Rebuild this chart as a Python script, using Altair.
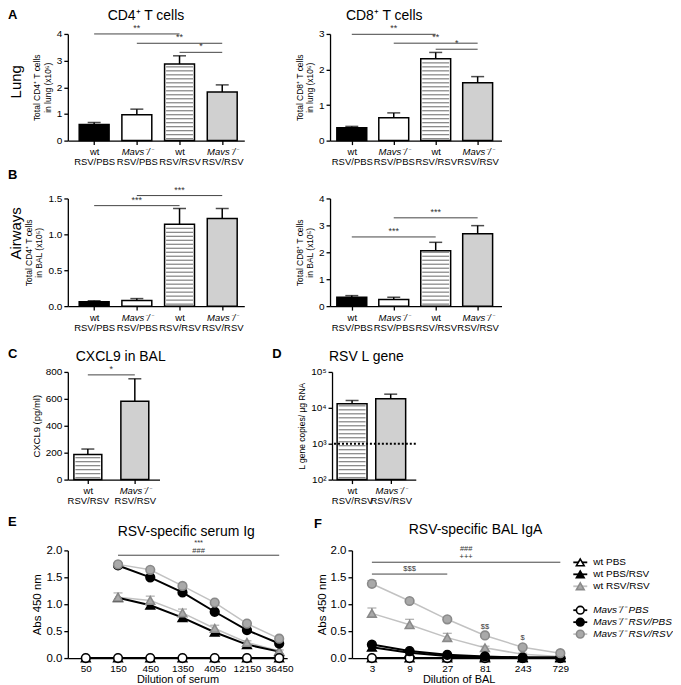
import json
import math
import altair as alt
import pandas as pd

FONT = "Liberation Sans"
BLACK = "#000000"

# ---------------- data: panels A / B ----------------
grp_line1 = ["wt", "Mavs⁻/⁻", "wt", "Mavs⁻/⁻"]
grp_line2 = ["RSV/PBS", "RSV/PBS", "RSV/RSV", "RSV/RSV"]
grp_style = ["black", "white", "striped", "dotted"]

cd4_lung_mean = [0.60, 0.97, 2.87, 1.82]
cd4_lung_sem = [0.08, 0.21, 0.31, 0.27]
cd4_lung_sig_from = [0, 1, 2]
cd4_lung_sig_to = [2, 3, 3]
cd4_lung_sig_y = [4.00, 3.65, 3.31]
cd4_lung_sig_text = ["**", "**", "*"]

cd8_lung_mean = [0.36, 0.64, 2.30, 1.63]
cd8_lung_sem = [0.04, 0.14, 0.18, 0.17]
cd8_lung_sig_from = [0, 1, 2]
cd8_lung_sig_to = [2, 3, 3]
cd8_lung_sig_y = [2.99, 2.74, 2.57]
cd8_lung_sig_text = ["**", "**", "*"]

cd4_bal_mean = [0.06, 0.08, 1.14, 1.22]
cd4_bal_sem = [0.015, 0.025, 0.22, 0.14]
cd4_bal_sig_from = [0, 1]
cd4_bal_sig_to = [2, 3]
cd4_bal_sig_y = [1.40, 1.54]
cd4_bal_sig_text = ["***", "***"]

cd8_bal_mean = [0.33, 0.25, 2.06, 2.69]
cd8_bal_sem = [0.06, 0.08, 0.31, 0.30]
cd8_bal_sig_from = [0, 1]
cd8_bal_sig_to = [2, 3]
cd8_bal_sig_y = [2.57, 3.28]
cd8_bal_sig_text = ["***", "***"]

# ---------------- data: panels C / D ----------------
rsv_line1 = ["wt", "Mavs⁻/⁻"]
rsv_line2 = ["RSV/RSV", "RSV/RSV"]
rsv_style = ["striped", "dotted"]

cxcl9_mean = [186, 582]
cxcl9_sem = [41, 167]
cxcl9_sig_from = [0]
cxcl9_sig_to = [1]
cxcl9_sig_y = [778]
cxcl9_sig_text = ["*"]

lgene_mean = [13000, 18000]
lgene_sem = [3000, 6000]
lgene_lod = [1000]

# ---------------- data: panels E / F ----------------
SERIES = ["wt PBS", "wt PBS/RSV", "wt RSV/RSV",
          "Mavs⁻/⁻ PBS", "Mavs⁻/⁻ RSV/PBS", "Mavs⁻/⁻ RSV/RSV"]

serum_dil = [50, 150, 450, 1350, 4050, 12150, 36450]
serum_wt_pbs = [0.00, 0.00, 0.00, 0.00, 0.00, 0.00, 0.00]
serum_wt_pbs_rsv = [None, 1.12, 0.98, 0.75, 0.48, 0.25, 0.12]
serum_wt_rsv_rsv = [None, 1.13, 1.07, 0.84, 0.55, 0.29, 0.13]
serum_wt_rsv_rsv_sem = [None, 0.08, 0.08, 0.07, 0.06, 0.03, 0.02]
serum_mavs_pbs = [0.00, 0.00, 0.00, 0.00, 0.00, 0.00, 0.00]
serum_mavs_rsv_pbs = [None, 1.72, 1.50, 1.22, 0.86, 0.52, 0.27]
serum_mavs_rsv_rsv = [None, 1.74, 1.64, 1.34, 1.03, 0.64, 0.36]
serum_sig_lines = {"x1": [150], "x2": [36450], "h": [1.91]}
serum_sig_text = {"x1": [150, 150], "x2": [36450, 36450], "h": [2.135, 1.99], "t": ["***", "###"]}

bal_dil = [3, 9, 27, 81, 243, 729]
bal_wt_pbs = [0.00, 0.00, 0.00, 0.00, 0.00, 0.00]
bal_wt_pbs_rsv = [0.20, 0.10, 0.04, 0.02, 0.01, 0.01]
bal_wt_rsv_rsv = [0.83, 0.62, 0.38, 0.19, 0.07, 0.03]
bal_wt_rsv_rsv_sem = [0.10, 0.10, 0.08, 0.03, 0.02, 0.01]
bal_mavs_pbs = [0.00, 0.00, 0.00, 0.00, 0.00, 0.00]
bal_mavs_rsv_pbs = [0.25, 0.13, 0.06, 0.03, 0.01, 0.01]
bal_mavs_rsv_rsv = [1.38, 1.06, 0.72, 0.42, 0.20, 0.09]
bal_mavs_rsv_rsv_sem = [0.06, 0.03, 0.03, 0.02, 0.02, 0.01]
bal_sig_lines = {"x1": [3, 3], "x2": [729, 27], "h": [1.78, 1.56]}
bal_sig_text = {"x1": [3, 3, 3, 81, 243], "x2": [729, 729, 27, 81, 243],
                "h": [2.02, 1.87, 1.65, 0.58, 0.37], "t": ["###", "+++", "$$$", "$$", "$"]}

# ---------------- styles ----------------
STYLE_DOMAIN = ["black", "white", "striped", "dotted"]
STYLE_FILL = ["#000000", "#ffffff", "#ffffff", "#d0d0d0"]
LINE_COLORS = ["#000000", "#000000", "#c2c2c2", "#000000", "#000000", "#c2c2c2"]
SHAPES = ["triangle-up", "triangle-up", "triangle-up", "circle", "circle", "circle"]
PT_FILL = ["#ffffff", "#000000", "#a9a9a9", "#ffffff", "#000000", "#a9a9a9"]
PT_STROKE = ["#000000", "#000000", "#8a8a8a", "#000000", "#000000", "#8a8a8a"]
GREY_SERIES = [SERIES[2], SERIES[5]]

# one shared fill scale for the whole figure (non-positional scales are shared across concat)
FILL_SCALE = alt.Scale(domain=STYLE_DOMAIN + SERIES, range=STYLE_FILL + PT_FILL)
COLOR_SCALE = alt.Scale(domain=SERIES, range=LINE_COLORS)
SHAPE_SCALE = alt.Scale(domain=SERIES, range=SHAPES)
STROKE_SCALE = alt.Scale(domain=SERIES, range=PT_STROKE)


def text_layer(txt, x, y, size, weight="normal", align="left",
               baseline="alphabetic", angle=None):
    kw = dict(align=align, baseline=baseline, fontSize=size,
              fontWeight=weight, color=BLACK, font=FONT)
    if angle is not None:
        kw["angle"] = angle
    return alt.Chart(pd.DataFrame({"t": [txt]})).mark_text(**kw).encode(
        x=alt.value(x), y=alt.value(y), text="t:N")


def bar_panel(line1, line2, styles, mean, sem, sig, ydomain, yvalues, ytitle,
              width, height, xdomain, title, title_xy, letter, letter_xy,
              bw=30, yformat=None, ylabel_expr=None, log=False, lod=None,
              rowlabel=None, rowlabel_y=None, ytitle_size=8.5, ytitle_pad=4):
    n = len(mean)
    df = pd.DataFrame({"i": list(range(n)), "mean": mean,
                       "top": [m + s for m, s in zip(mean, sem)],
                       "style": styles})
    if log:
        yscale = alt.Scale(type="log", domain=ydomain, nice=False)
    else:
        yscale = alt.Scale(domain=ydomain, nice=False)
    akw = dict(values=yvalues, title=ytitle, titleFontSize=ytitle_size,
               titlePadding=ytitle_pad, labelFontSize=10)
    if yformat:
        akw["format"] = yformat
    if ylabel_expr:
        akw["labelExpr"] = ylabel_expr
    yaxis = alt.Axis(**akw)
    xscale = alt.Scale(domain=xdomain, nice=False, zero=False)
    mavs = [k for k, s in enumerate(line1) if s.startswith("Mavs")]
    ax1 = alt.Axis(values=list(range(n)), title=None, orient="bottom",
                   labelExpr=json.dumps(line1, ensure_ascii=False) + "[datum.value]",
                   labelFontStyle={"condition": {"test": "indexof(" + json.dumps(mavs) + ", datum.value) >= 0",
                                                 "value": "italic"}, "value": "normal"},
                   labelFontSize=9.5, labelPadding=2)
    ax2 = alt.Axis(values=list(range(n)), title=None, orient="bottom",
                   labelExpr=json.dumps(line2, ensure_ascii=False) + "[datum.value]",
                   domain=False, ticks=False, labelFontSize=9.5, labelPadding=16)
    base = ydomain[0] if log else 0

    X = lambda f, ax=None: alt.X(f, scale=xscale, axis=ax)
    Y = lambda f: alt.Y(f, scale=yscale, axis=yaxis)

    bars = alt.Chart(df).mark_bar(width=bw, stroke=BLACK, strokeWidth=1.5).encode(
        x=X("i:Q", ax1), y=Y("mean:Q"), y2=alt.datum(base),
        fill=alt.Fill("style:N", scale=FILL_SCALE, legend=None))

    if log:
        lo, hi = math.log10(ydomain[0]), math.log10(ydomain[1])
        st = 4.0 * (hi - lo) / height
        stripes = alt.Chart(df).transform_filter("datum.style == 'striped'").transform_calculate(
            s=f"sequence({lo + st / 2}, log(datum.mean) / LN10 - {st * 0.3}, {st})"
        ).transform_flatten(["s"]).transform_calculate(sy="pow(10, datum.s)")
    else:
        st = 4.0 * (ydomain[1] - ydomain[0]) / height
        stripes = alt.Chart(df).transform_filter("datum.style == 'striped'").transform_calculate(
            s=f"sequence({st / 2}, datum.mean - {st * 0.3}, {st})"
        ).transform_flatten(["s"]).transform_calculate(sy="datum.s")
    stripes = stripes.mark_tick(orient="horizontal", size=bw - 3, thickness=1.3,
                                color="#5a5a5a").encode(x=X("i:Q"), y=Y("sy:Q"))

    err = alt.Chart(df).mark_rule(color=BLACK, strokeWidth=1.5).encode(
        x=X("i:Q", ax2), y=Y("mean:Q"), y2="top:Q")
    cap = alt.Chart(df).mark_tick(orient="horizontal", size=13, thickness=1.5,
                                  color=BLACK).encode(x=X("i:Q"), y=Y("top:Q"))

    sdf = pd.DataFrame({"a": sig[0], "b": sig[1], "h": sig[2], "t": sig[3]})
    srule = alt.Chart(sdf).mark_rule(color="#444444", strokeWidth=1).encode(
        x=X("a:Q"), x2="b:Q", y=Y("h:Q"))
    stext = alt.Chart(sdf).transform_calculate(m="(datum.a + datum.b) / 2").mark_text(
        baseline="bottom", dy=-1, fontSize=9, color="#333333", font=FONT).encode(
        x=X("m:Q"), y=Y("h:Q"), text="t:N")

    layers = [bars, stripes, err, cap, srule, stext]
    if lod is not None:
        layers.append(alt.Chart(pd.DataFrame({"lod": lod})).mark_rule(
            strokeDash=[2, 2], strokeWidth=2, color=BLACK).encode(y=Y("lod:Q")))
    if title:
        layers.append(text_layer(title, title_xy[0], title_xy[1], 14))
    if letter:
        layers.append(text_layer(letter, letter_xy[0], letter_xy[1], 13, weight="bold",
                                 baseline="middle"))
    if rowlabel:
        layers.append(text_layer(rowlabel, -52, rowlabel_y, 15, align="center",
                                 baseline="middle", angle=270))
    return alt.layer(*layers).resolve_axis(x="independent").properties(
        width=width, height=height)


def line_panel(dil, vals, sems, xdomain, xtitle, sig_lines, sig_text, title,
               title_xy, letter, letter_xy, width, height):
    rows = []
    for name, vv in zip(SERIES, vals):
        for d, v in zip(dil, vv):
            if v is not None:
                rows.append({"d": d, "v": v, "series": name})
    df = pd.DataFrame(rows)
    erows = []
    for name, ss in sems.items():
        vv = vals[SERIES.index(name)]
        for d, v, s in zip(dil, vv, ss):
            if v is not None and s is not None:
                erows.append({"d": d, "v": v, "top": v + s, "series": name})
    edf = pd.DataFrame(erows)

    xscale = alt.Scale(type="log", domain=xdomain, nice=False)
    yscale = alt.Scale(domain=[0, 2], nice=False)
    xaxis = alt.Axis(values=dil, format="d", title=xtitle, titleFontSize=11,
                     labelFontSize=10, labelFlush=False, labelPadding=1, titlePadding=1)
    yaxis = alt.Axis(values=[0, 0.5, 1, 1.5, 2], format=".1f", title="Abs 450 nm",
                     titleFontSize=11.5, labelFontSize=11.5, titlePadding=3)
    X = lambda f: alt.X(f, scale=xscale, axis=xaxis)
    Y = lambda f: alt.Y(f, scale=yscale, axis=yaxis)
    color = alt.Color("series:N", scale=COLOR_SCALE, legend=None)

    grey_lines = alt.Chart(df).transform_filter(
        alt.FieldOneOfPredicate(field="series", oneOf=GREY_SERIES)).mark_line(
        strokeWidth=1.5).encode(x=X("d:Q"), y=Y("v:Q"), color=color)
    black_lines = alt.Chart(df).transform_filter(
        {"not": alt.FieldOneOfPredicate(field="series", oneOf=GREY_SERIES)}).mark_line(
        strokeWidth=2).encode(x=X("d:Q"), y=Y("v:Q"), color=color)
    erule = alt.Chart(edf).mark_rule(color="#8a8a8a", strokeWidth=1.2).encode(
        x=X("d:Q"), y=Y("v:Q"), y2="top:Q")
    ecap = alt.Chart(edf).mark_tick(orient="horizontal", size=9, thickness=1.2,
                                    color="#8a8a8a").encode(x=X("d:Q"), y=Y("top:Q"))
    points = alt.Chart(df).mark_point(filled=True, size=75, strokeWidth=1.6, opacity=1).encode(
        x=X("d:Q"), y=Y("v:Q"),
        shape=alt.Shape("series:N", scale=SHAPE_SCALE, legend=None),
        fill=alt.Fill("series:N", scale=FILL_SCALE, legend=None),
        stroke=alt.Stroke("series:N", scale=STROKE_SCALE, legend=None))
    srule = alt.Chart(pd.DataFrame(sig_lines)).mark_rule(color="#444444", strokeWidth=1).encode(
        x=X("x1:Q"), x2="x2:Q", y=Y("h:Q"))
    stext = alt.Chart(pd.DataFrame(sig_text)).transform_calculate(
        m="sqrt(datum.x1 * datum.x2)").mark_text(
        baseline="middle", fontSize=7.5, color="#333333", font=FONT).encode(
        x=X("m:Q"), y=Y("h:Q"), text="t:N")
    layers = [grey_lines, black_lines, erule, ecap, points, srule, stext,
              text_layer(title, title_xy[0], title_xy[1], 14),
              text_layer(letter, letter_xy[0], letter_xy[1], 13, weight="bold", baseline="middle")]
    return alt.layer(*layers).properties(width=width, height=height)


def legend_panel(width, height):
    df = pd.DataFrame({"series": SERIES})
    yscale = alt.Scale(type="point", domain=SERIES[:3] + [" "] + SERIES[3:] + ["  "], padding=1.33)
    Y = alt.Y("series:N", scale=yscale, axis=None)
    color = alt.Color("series:N", scale=COLOR_SCALE, legend=None)
    rule = alt.Chart(df).mark_rule(strokeWidth=1.8).encode(
        x=alt.value(3), x2=alt.value(17), y=Y, color=color)
    pts = alt.Chart(df).mark_point(filled=True, size=60, strokeWidth=1.6, opacity=1).encode(
        x=alt.value(10), y=Y,
        shape=alt.Shape("series:N", scale=SHAPE_SCALE, legend=None),
        fill=alt.Fill("series:N", scale=FILL_SCALE, legend=None),
        stroke=alt.Stroke("series:N", scale=STROKE_SCALE, legend=None))
    t_wt = alt.Chart(df).transform_filter("indexof(datum.series, 'wt') == 0").mark_text(
        align="left", baseline="middle", fontSize=10, font=FONT, color=BLACK).encode(
        x=alt.value(23), y=Y, text="series:N")
    t_mv = alt.Chart(df).transform_filter("indexof(datum.series, 'Mavs') == 0").mark_text(
        align="left", baseline="middle", fontSize=10, font=FONT, color=BLACK,
        fontStyle="italic").encode(x=alt.value(23), y=Y, text="series:N")
    return alt.layer(rule, pts, t_wt, t_mv).properties(width=width, height=height)


# ---------------- panels ----------------
A_left = bar_panel(grp_line1, grp_line2, grp_style, cd4_lung_mean, cd4_lung_sem,
                   (cd4_lung_sig_from, cd4_lung_sig_to, cd4_lung_sig_y, cd4_lung_sig_text),
                   [0, 4], [0, 1, 2, 3, 4], ["Total CD4⁺ T cells", "in lung (x10⁶)"],
                   177, 107, [-0.5, 3.4], "CD4⁺ T cells", (40, -13.5), "A", (-60, -19),
                   rowlabel="Lung", rowlabel_y=48)
A_right = bar_panel(grp_line1, grp_line2, grp_style, cd8_lung_mean, cd8_lung_sem,
                    (cd8_lung_sig_from, cd8_lung_sig_to, cd8_lung_sig_y, cd8_lung_sig_text),
                    [0, 3], [0, 1, 2, 3], ["Total CD8⁺ T cells", "in lung (x10⁶)"],
                    172, 107, [-0.4, 3.45], "CD8⁺ T cells", (16, -13.5), None, None)
B_left = bar_panel(grp_line1, grp_line2, grp_style, cd4_bal_mean, cd4_bal_sem,
                   (cd4_bal_sig_from, cd4_bal_sig_to, cd4_bal_sig_y, cd4_bal_sig_text),
                   [0, 1.5], [0, 0.5, 1, 1.5], ["Total CD4⁺ T cells", "in BAL (x10⁵)"],
                   177, 108, [-0.5, 3.4], None, None, "B", (-60, -24), yformat=".1f",
                   rowlabel="Airways", rowlabel_y=35)
B_right = bar_panel(grp_line1, grp_line2, grp_style, cd8_bal_mean, cd8_bal_sem,
                    (cd8_bal_sig_from, cd8_bal_sig_to, cd8_bal_sig_y, cd8_bal_sig_text),
                    [0, 4], [0, 1, 2, 3, 4], ["Total CD8⁺ T cells", "in BAL (x10⁵)"],
                    172, 108, [-0.4, 3.45], None, None, None, None)
C_panel = bar_panel(rsv_line1, rsv_line2, rsv_style, cxcl9_mean, cxcl9_sem,
                    (cxcl9_sig_from, cxcl9_sig_to, cxcl9_sig_y, cxcl9_sig_text),
                    [0, 800], [0, 200, 400, 600, 800], "CXCL9 (pg/ml)",
                    92, 108, [-0.32, 1.42], "CXCL9 in BAL", (8, -11), "C", (-60, -18),
                    bw=28, ytitle_size=9.5)
D_panel = bar_panel(rsv_line1, rsv_line2, rsv_style, lgene_mean, lgene_sem,
                    ([], [], [], []),
                    [100, 100000], [100, 1000, 10000, 100000], "L gene copies/ µg RNA",
                    84, 108, [-0.39, 1.52], "RSV L gene", (-3, -11), "D", (-60, -18),
                    log=True, lod=lgene_lod,
                    ylabel_expr="'10' + ['²','³','⁴','⁵'][round(log(datum.value) / LN10) - 2]")
E_panel = line_panel(serum_dil,
                     [serum_wt_pbs, serum_wt_pbs_rsv, serum_wt_rsv_rsv,
                      serum_mavs_pbs, serum_mavs_rsv_pbs, serum_mavs_rsv_rsv],
                     {SERIES[2]: serum_wt_rsv_rsv_sem},
                     [27.1, 47830], "Dilution of serum", serum_sig_lines, serum_sig_text,
                     "RSV-specific serum Ig", (50, -14), "E", (-60, -28), 220, 108)
F_panel = line_panel(bal_dil,
                     [bal_wt_pbs, bal_wt_pbs_rsv, bal_wt_rsv_rsv,
                      bal_mavs_pbs, bal_mavs_rsv_pbs, bal_mavs_rsv_rsv],
                     {SERIES[2]: bal_wt_rsv_rsv_sem, SERIES[5]: bal_mavs_rsv_rsv_sem},
                     [1.678, 843], "Dilution of BAL", bal_sig_lines, bal_sig_text,
                     "RSV-specific BAL IgA", (57, -16), "F", (-38, -26), 214, 108)
legend = legend_panel(90, 108)

rowA = alt.hconcat(A_left, A_right, spacing=86, bounds="flush")
rowB = alt.hconcat(B_left, B_right, spacing=86, bounds="flush")
rowC = alt.hconcat(C_panel, D_panel, spacing=173, bounds="flush")
rowE = alt.hconcat(E_panel, alt.hconcat(F_panel, legend, spacing=5, bounds="flush"),
                   spacing=65, bounds="flush")

top = alt.vconcat(rowA, rowB, spacing=2)
mid = alt.vconcat(top, rowC, spacing=16)
chart = alt.vconcat(mid, rowE, spacing=11).properties(
    padding=0, background="white"
).configure(font=FONT, padding=0).configure_view(stroke=None).configure_axis(
    domainColor=BLACK, tickColor=BLACK, labelColor=BLACK, titleColor=BLACK,
    labelFont=FONT, titleFont=FONT, titleFontWeight="normal", grid=False,
    domainWidth=1.3, tickWidth=1.3, tickSize=4
)

chart.save("out.html", embed_options={"renderer": "svg", "actions": False})
